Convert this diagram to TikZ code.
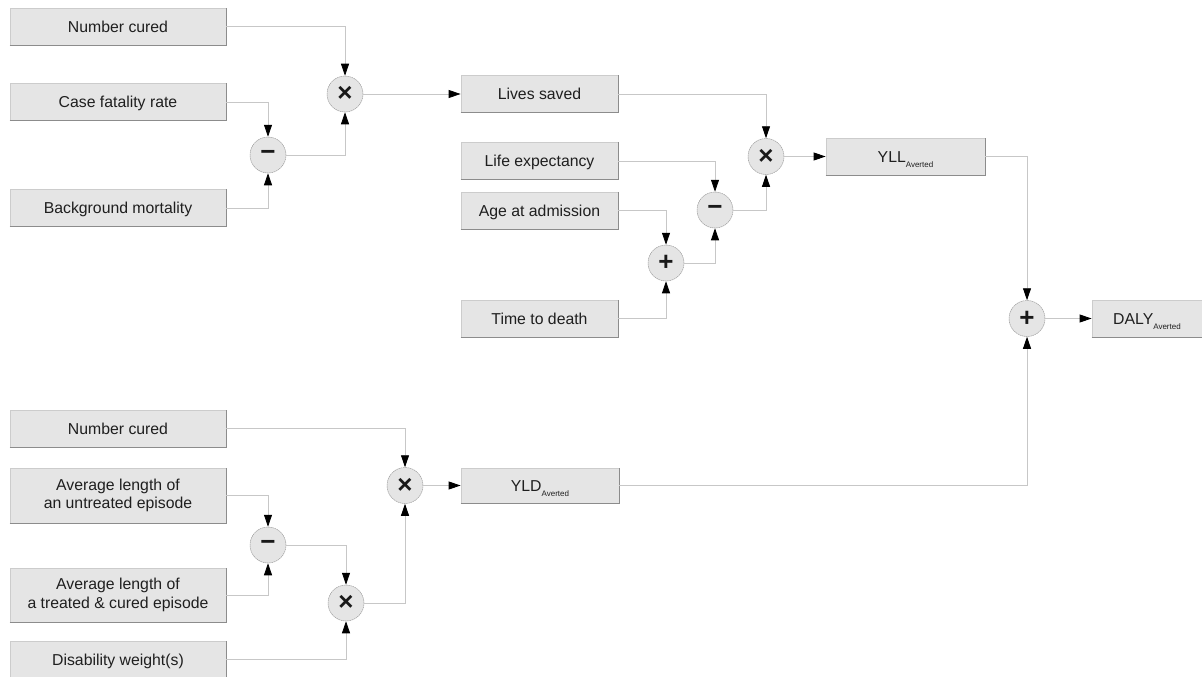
\documentclass[tikz,border=0pt]{standalone}
\usepackage{fontspec}
\setmainfont{Liberation Sans}
\usetikzlibrary{arrows.meta}

\newcommand{\avsub}{\raisebox{-5.5pt}{\fontsize{8}{8}\selectfont Averted}}

\begin{document}
\begin{tikzpicture}[x=1pt,y=-1pt,
  every node/.style={font=\fontsize{15.8}{18.5}\selectfont, text=black!88},
  block/.style={rectangle, fill=black!10, draw=black!20, line width=0.8pt,
    inner sep=0pt, align=center, minimum height=37pt},
  wide/.style={minimum width=216pt},
  mid/.style={minimum width=157pt},
  oneline/.style={text height=11.3pt, text depth=0pt},
  op/.style={circle, minimum size=36pt, inner sep=0pt, fill=black!10,
    draw=black!38, line width=0.5pt, dash pattern=on 1.6pt off 0.6pt,
    font=\fontsize{26}{26}\bfseries\selectfont, text=black!90},
  boxshade/.style={draw=black!45, line width=0.9pt},
  conn/.style={draw=black!22, line width=0.8pt,
    -{Triangle[length=12pt, width=8pt, color=black, fill=black]}}
]
\useasboundingbox (0,0) rectangle (1202,677);

% --- years of life lost branch ---
\node[block, wide, oneline] (nc1) at (118,26.5) {Number cured};
\node[block, wide, oneline] (cfr) at (118,102) {Case fatality rate};
\node[block, wide, oneline] (bm)  at (118,208) {Background mortality};
\node[op] (m1) at (268,155) {−};
\node[op] (x1) at (345,94) {×};

\node[block, mid, oneline] (ls) at (539.5,94) {Lives saved};
\node[block, mid, oneline] (le) at (539.5,161) {Life expectancy};
\node[block, mid, oneline] (aa) at (539.5,210.5) {Age at admission};
\node[block, mid, oneline] (td) at (539.5,318.5) {Time to death};
\node[op] (p1) at (666,263) {+};
\node[op] (m2) at (715,210) {−};
\node[op] (x2) at (766,156.5) {×};

\node[block, minimum width=159pt, oneline] (yll) at (905.5,156.5) {YLL\avsub};

% --- total ---
\node[op] (p2) at (1027,318.5) {+};
\node[block, minimum width=110pt, oneline] (daly) at (1147,318.5) {DALY\avsub};

% --- years lived with disability branch ---
\node[block, wide, oneline] (nc2) at (118,428.5) {Number cured};
\node[block, wide, minimum height=55pt] (un) at (118,495.5) {Average length of\\an untreated episode};
\node[block, wide, minimum height=54pt] (tr) at (118,595) {Average length of\\a treated \& cured episode};
\node[block, wide, oneline] (dw) at (118,659.5) {Disability weight(s)};
\node[op] (m3) at (268,545) {−};
\node[op] (x4) at (346,603) {×};
\node[op] (x3) at (405,485.5) {×};
\node[block, minimum width=158pt, minimum height=35pt, oneline] (yld) at (540,485.5) {YLD\avsub};

% darker lower and right edges of the boxes
\foreach \n in {nc1,cfr,bm,ls,le,aa,td,yll,daly,nc2,un,tr,dw,yld}
  \draw[boxshade] (\n.south west) -- (\n.south east) -- (\n.north east);

% --- connectors ---
\draw[conn] (nc1.east) -| (x1.north);
\draw[conn] (cfr.east) -| (m1.north);
\draw[conn] (bm.east) -| (m1.south);
\draw[conn] (m1.east) -| (x1.south);
\draw[conn] (x1.east) -- (ls.west);

\draw[conn] (ls.east) -| (x2.north);
\draw[conn] (le.east) -| (m2.north);
\draw[conn] (aa.east) -| (p1.north);
\draw[conn] (td.east) -| (p1.south);
\draw[conn] (p1.east) -| (m2.south);
\draw[conn] (m2.east) -| (x2.south);
\draw[conn] (x2.east) -- (yll.west);

\draw[conn] (yll.east) -| (p2.north);
\draw[conn] (p2.east) -- (daly.west);

\draw[conn] (nc2.east) -| (x3.north);
\draw[conn] (un.east) -| (m3.north);
\draw[conn] (tr.east) -| (m3.south);
\draw[conn] (m3.east) -| (x4.north);
\draw[conn] (dw.east) -| (x4.south);
\draw[conn] (x4.east) -| (x3.south);
\draw[conn] (x3.east) -- (yld.west);
\draw[conn] (yld.east) -| (p2.south);
\end{tikzpicture}
\end{document}
